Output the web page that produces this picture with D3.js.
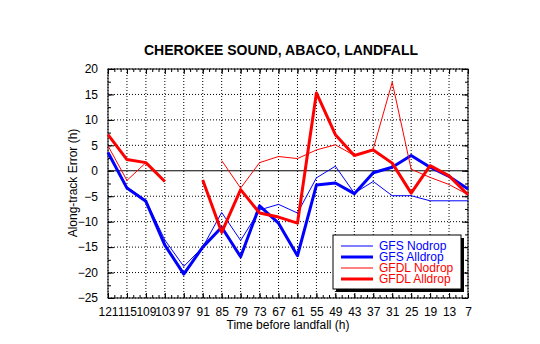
<!DOCTYPE html>
<html><head><meta charset="utf-8">
<script src="https://cdn.jsdelivr.net/npm/d3@7"></script>
<style>body{margin:0;background:#fff;}svg{display:block;font-family:"Liberation Sans",Arial,sans-serif;}</style>
</head><body><svg id="c" width="540" height="344"></svg>
<script>
const hours = [121,115,109,103,97,91,85,79,73,67,61,55,49,43,37,31,25,19,13,7];
const gfsNodrop  = [3.6,-3.2,-5.8,-13.6,-18.8,-15.0,-8.2,-13.7,-7.7,-6.6,-8.3,-1.4,0.9,-4.4,-2.1,-4.9,-4.9,-5.9,-5.9,-5.9];
const gfsAlldrop = [3.6,-3.4,-6.0,-14.6,-20.3,-15.0,-11.1,-16.9,-6.9,-10.3,-16.7,-2.8,-2.4,-4.5,-0.4,0.7,3.0,0.7,-1.1,-3.6];
const gfdlNodrop = [4.9,-1.9,1.6,-2.1,null,null,2.0,-3.4,1.6,2.8,2.4,4.1,5.1,3.0,4.3,17.4,0.3,-1.3,-2.7,-4.7];
const gfdlAlldrop= [7.1,2.2,1.6,-2.1,null,-1.8,-12.1,-3.7,-8.3,-9.1,-10.3,15.3,7.1,3.0,4.1,1.5,-4.4,1.0,-1.0,-4.7];
const yTicks = [20,15,10,5,0,-5,-10,-15,-20,-25];
const series = [
  {name:"GFS Nodrop", values:gfsNodrop, color:"#0000ff", w:1},
  {name:"GFS Alldrop", values:gfsAlldrop, color:"#0000ff", w:3},
  {name:"GFDL Nodrop", values:gfdlNodrop, color:"#ff0000", w:1},
  {name:"GFDL Alldrop", values:gfdlAlldrop, color:"#ff0000", w:3}
];

const svg = d3.select("#c");
const L=108, R=468, T=69, B=298;
const x = d3.scaleLinear().domain([121,7]).range([L,R]);
const y = d3.scaleLinear().domain([-25,20]).range([B,T]);

// grid
const g = svg.append("g");
hours.forEach(h=>{
  g.append("line").attr("x1",x(h)).attr("x2",x(h)).attr("y1",T).attr("y2",B)
   .attr("stroke","#000").attr("stroke-width",1).attr("stroke-dasharray","1,2");
});
yTicks.forEach(v=>{
  g.append("line").attr("x1",L).attr("x2",R).attr("y1",y(v)).attr("y2",y(v))
   .attr("stroke","#000").attr("stroke-width",1).attr("stroke-dasharray", v===0?null:"1,2");
});

// axes with inward ticks
const minorX = d3.range(121,6,-2);
const minorY = d3.range(-25,20.01,2.5);
svg.append("g").attr("transform",`translate(0,${B})`)
  .call(d3.axisBottom(x).tickValues(minorX).tickSize(-3).tickFormat(""))
  .call(a=>a.select(".domain").remove());
svg.append("g").attr("transform",`translate(0,${T})`)
  .call(d3.axisTop(x).tickValues(minorX).tickSize(-3).tickFormat(""))
  .call(a=>a.select(".domain").remove());
svg.append("g").attr("transform",`translate(0,${B})`)
  .call(d3.axisBottom(x).tickValues(hours).tickSize(-5).tickPadding(9).tickFormat(d3.format("d")))
  .call(a=>a.select(".domain").remove())
  .call(a=>a.selectAll("text").attr("font-size",12).attr("fill","#000").attr("font-family","Liberation Sans, Arial, sans-serif"));
svg.append("g").attr("transform",`translate(0,${T})`)
  .call(d3.axisTop(x).tickValues(hours).tickSize(-5).tickFormat(""))
  .call(a=>a.select(".domain").remove());
svg.append("g").attr("transform",`translate(${L},0)`)
  .call(d3.axisLeft(y).tickValues(minorY).tickSize(-3).tickFormat(""))
  .call(a=>a.select(".domain").remove());
svg.append("g").attr("transform",`translate(${R},0)`)
  .call(d3.axisRight(y).tickValues(minorY).tickSize(-3).tickFormat(""))
  .call(a=>a.select(".domain").remove());
svg.append("g").attr("transform",`translate(${L},0)`)
  .call(d3.axisLeft(y).tickValues(yTicks).tickSize(-6).tickPadding(10).tickFormat(d3.format("d")))
  .call(a=>a.select(".domain").remove())
  .call(a=>a.selectAll("text").attr("font-size",12).attr("fill","#000").attr("font-family","Liberation Sans, Arial, sans-serif"));
svg.append("g").attr("transform",`translate(${R},0)`)
  .call(d3.axisRight(y).tickValues(yTicks).tickSize(-6).tickFormat(""))
  .call(a=>a.select(".domain").remove());
svg.selectAll(".tick line").attr("stroke","#000");
svg.append("rect").attr("x",L).attr("y",T).attr("width",R-L).attr("height",B-T)
  .attr("fill","none").attr("stroke","#000").attr("stroke-width",1);

// lines
const line = d3.line().defined(d=>d[1]!==null).x(d=>x(d[0])).y(d=>y(d[1]));
series.forEach(s=>{
  svg.append("path").datum(hours.map((h,i)=>[h,s.values[i]]))
    .attr("d",line).attr("fill","none").attr("stroke",s.color).attr("stroke-width",s.w)
    .attr("stroke-linejoin","round");
});

// title & labels
svg.append("text").attr("x",281).attr("y",55).attr("text-anchor","middle")
  .attr("font-size",14).attr("font-weight","bold").text("CHEROKEE SOUND, ABACO, LANDFALL");
svg.append("text").attr("x",288).attr("y",329).attr("text-anchor","middle")
  .attr("font-size",12).text("Time before landfall (h)");
svg.append("text").attr("transform","translate(77,183) rotate(-90)").attr("text-anchor","middle")
  .attr("font-size",12).text("Along-track Error (h)");

// legend
const lx=333, ly=235, lw=128, lh=54;
svg.append("rect").attr("x",lx+3).attr("y",ly+3).attr("width",lw).attr("height",lh).attr("fill","#000");
svg.append("rect").attr("x",lx).attr("y",ly).attr("width",lw).attr("height",lh).attr("fill","#fff").attr("stroke","#000");
series.forEach((s,i)=>{
  const yy = ly+11+i*11;
  svg.append("line").attr("x1",lx+8).attr("x2",lx+40).attr("y1",yy).attr("y2",yy)
    .attr("stroke",s.color).attr("stroke-width",s.w);
  svg.append("text").attr("x",lx+46).attr("y",yy+4).attr("font-size",12).attr("fill",s.color).text(s.name);
});
</script></body></html>
